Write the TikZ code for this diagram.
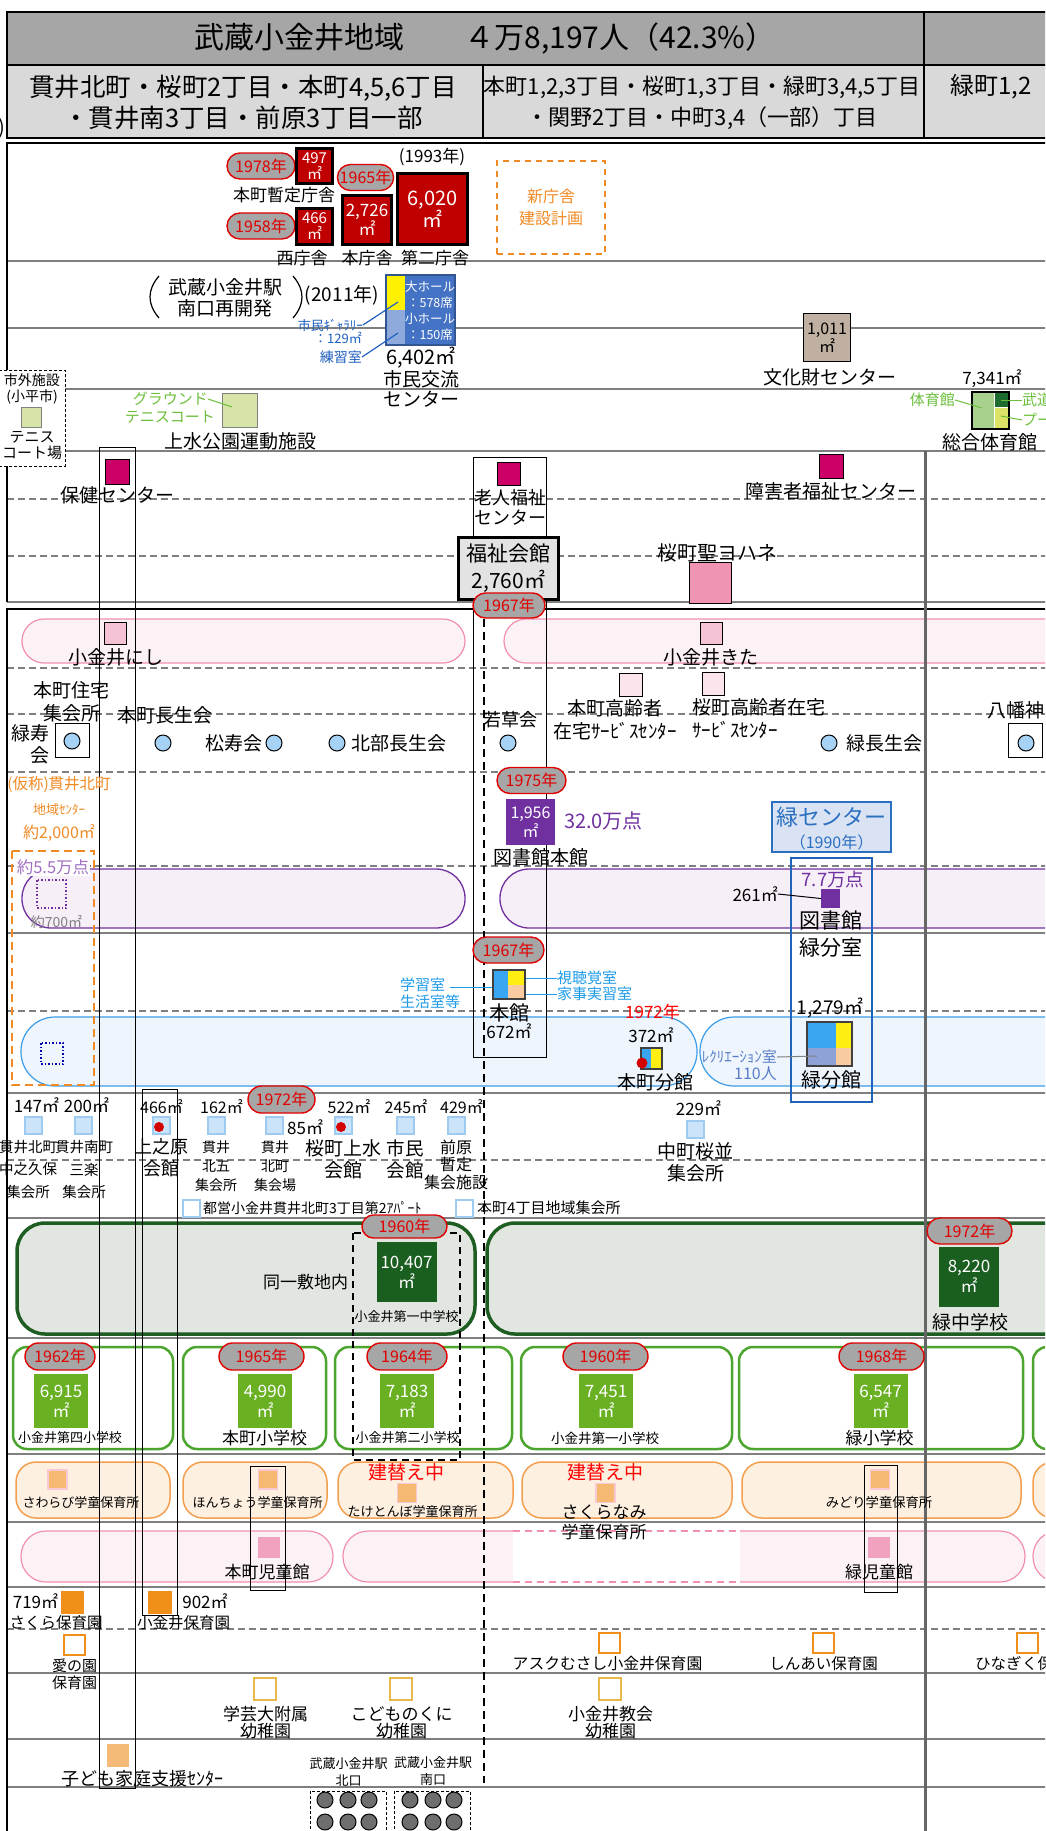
\documentclass[tikz,border=0pt]{standalone}
\usepackage{fontspec}
\setmainfont{Noto Sans CJK JP}
\usetikzlibrary{shapes.misc}
\newcommand\FS[2]{\fontsize{#1}{#2}\selectfont}
\definecolor{hdrA}{HTML}{A6A6A6}
\definecolor{hdrB}{HTML}{D9D9D9}
\definecolor{lineg}{HTML}{7F7F7F}
\definecolor{pillred}{HTML}{E00000}
\definecolor{pillgray}{HTML}{A6A6A6}
\definecolor{cityred}{HTML}{C00000}
\definecolor{neworange}{HTML}{F08A24}
\definecolor{hallyel}{HTML}{FFF200}
\definecolor{hallblue}{HTML}{4472C4}
\definecolor{hallpale}{HTML}{8EA9DB}
\definecolor{labblue}{HTML}{1F5FBF}
\definecolor{tanc}{HTML}{C0B0A2}
\definecolor{ltgreen}{HTML}{D7E4A8}
\definecolor{grlabel}{HTML}{6CBF3C}
\definecolor{gymgreen}{HTML}{A9D18E}
\definecolor{gymdark}{HTML}{1E6B30}
\definecolor{gymyel}{HTML}{DDE366}
\definecolor{welfmag}{HTML}{CC0066}
\definecolor{johpink}{HTML}{F094B4}
\definecolor{bandpink}{HTML}{F28FB1}
\definecolor{bandpinkfill}{HTML}{FCF2F6}
\definecolor{sqpink}{HTML}{F5C3D5}
\definecolor{sqpinkb}{HTML}{FCE4EC}
\definecolor{circblue}{HTML}{A6D2F5}
\definecolor{orgtext}{HTML}{F08A24}
\definecolor{purp}{HTML}{7030A0}
\definecolor{purplite}{HTML}{A070C4}
\definecolor{purpfill}{HTML}{F7EFF7}
\definecolor{mblue}{HTML}{1F64B8}
\definecolor{mcfill}{HTML}{DAE3F3}
\definecolor{mctext}{HTML}{2A6FC0}
\definecolor{kmblue}{HTML}{38A6F2}
\definecolor{kmyel}{HTML}{FFEE11}
\definecolor{kmpeach}{HTML}{F8CBA0}
\definecolor{kmlav}{HTML}{8EA2D8}
\definecolor{kmtext}{HTML}{1E9BE8}
\definecolor{bandblue}{HTML}{3B9DE8}
\definecolor{bandbluefill}{HTML}{EEF5FD}
\definecolor{rectxt}{HTML}{5A7DC8}
\definecolor{sqblue}{HTML}{CCE4FA}
\definecolor{sqblueb}{HTML}{9ECBF2}
\definecolor{redot}{HTML}{D40000}
\definecolor{jhdark}{HTML}{1E5E22}
\definecolor{jhfill}{HTML}{E1E7E0}
\definecolor{jhsq}{HTML}{1A5E20}
\definecolor{esgreen}{HTML}{4CA52E}
\definecolor{essq}{HTML}{69B023}
\definecolor{gakuband}{HTML}{F2A050}
\definecolor{gakufill}{HTML}{FDF0E1}
\definecolor{gakusq}{HTML}{F5B971}
\definecolor{gakusqb}{HTML}{F8C8D4}
\definecolor{jidosq}{HTML}{F0A2C0}
\definecolor{hoiku}{HTML}{F0901A}
\definecolor{youchi}{HTML}{E8B84A}
\definecolor{kosq}{HTML}{F5BA78}
\definecolor{stcirc}{HTML}{6E6E6E}
\definecolor{vdivc}{HTML}{666666}
\definecolor{fukushi}{HTML}{E3E3E3}
\begin{document}
\begin{tikzpicture}[x=1pt,y=-1pt,
  tx/.style={inner sep=0pt, align=center},
  yr/.style={rounded rectangle, draw=pillred, line width=1.4pt, fill=pillgray, text=pillred, inner sep=0pt, minimum height=26pt, font=\FS{16}{16}},
  bldg/.style={draw=black, line width=2.5pt, inner sep=0pt, align=center, text=white},
  sqr/.style={draw=black, line width=1pt, inner sep=0pt},
  circ/.style={circle, draw=black, line width=1pt, fill=circblue, minimum size=16pt, inner sep=0pt},
  sqb/.style={fill=sqblue, draw=sqblueb, line width=2pt, minimum width=17pt, minimum height=17pt, inner sep=0pt},
  essq/.style={fill=essq, text=white, inner sep=0pt, align=center, minimum width=54pt, minimum height=54pt, font=\FS{17}{20}},
  jhsq/.style={fill=jhsq, text=white, inner sep=0pt, align=center, minimum width=60pt, minimum height=60pt, font=\FS{17}{20}},
  gsq/.style={fill=gakusq, draw=gakusqb, line width=1.5pt, minimum width=19pt, minimum height=19pt, inner sep=0pt},
  hosq/.style={fill=white, draw=hoiku, line width=2pt, minimum width=21pt, minimum height=20pt, inner sep=0pt},
  yosq/.style={fill=white, draw=youchi, line width=2pt, minimum width=22pt, minimum height=22pt, inner sep=0pt},
  rowline/.style={draw=lineg, line width=1.5pt},
  rowdash/.style={draw=lineg, line width=1.2pt, dash pattern=on 7pt off 4pt},
  tallbox/.style={draw=black, line width=1pt},
  stc/.style={circle, draw=black, line width=1pt, fill=stcirc, minimum size=16pt, inner sep=0pt}
]
\useasboundingbox (0,0) rectangle (1045,1831);
\clip (0,0) rectangle (1045,1831);
\fill[white] (0,0) rectangle (1045,1831);

% ---------------- header
\fill[hdrA] (7,12) rectangle (1060,65);
\fill[hdrB] (7,65) rectangle (1060,138);
\draw[line width=1.2pt] (7,65) -- (1060,65);
\draw[line width=1.5pt] (483,65) -- (483,138);
\draw[line width=1.5pt] (924,12) -- (924,138);
\draw[line width=2.5pt] (1060,12) -- (7,12) -- (7,138) -- (1060,138);
\node[tx, font=\FS{30}{30}] (title) at (485,39) {武蔵小金井地域　　４万8,197人（42.3\%）};
\node[tx, font=\FS{25.5}{31}] (areaA) at (243,102.5) {貫井北町・桜町2丁目・本町4,5,6丁目\\・貫井南3丁目・前原3丁目一部};
\node[tx, font=\FS{22}{31}] (areaB) at (702,102.5) {本町1,2,3丁目・桜町1,3丁目・緑町3,4,5丁目\\・関野2丁目・中町3,4（一部）丁目};
\node[tx, font=\FS{24}{24}, anchor=west] (areaC) at (950,87) {緑町1,2};
\node[tx, font=\FS{20}{20}, anchor=east] (frag) at (5,128) {)};

% ---------------- section frames and row lines
\foreach \yy in {261,328,389,451} \draw[rowline] (7,\yy) -- (1060,\yy);
\foreach \yy in {499,556} \draw[rowdash] (7,\yy) -- (1060,\yy);
\foreach \yy in {933,1093,1218,1338,1454,1522,1587,1673,1739,1787} \draw[rowline] (7,\yy) -- (1060,\yy);
\foreach \yy in {668,714,772,866,1011,1160,1629} \draw[rowdash] (7,\yy) -- (1060,\yy);
\draw[lineg, line width=1.5pt] (7,602) -- (1060,602);
\draw[line width=2.5pt] (1060,143) -- (7,143) -- (7,602);
\draw[line width=2.5pt] (1060,609) -- (7,609) -- (7,1900);

% ---------------- bands
\draw[bandpink, fill=bandpinkfill, rounded corners=22pt, line width=1.2pt] (22,619) rectangle (465,663);
\draw[bandpink, fill=bandpinkfill, rounded corners=22pt, line width=1.2pt] (504,619) rectangle (1100,663);
\draw[purp, fill=purpfill, rounded corners=29pt, line width=1.3pt] (22,869) rectangle (465,928);
\draw[purp, fill=purpfill, rounded corners=29pt, line width=1.3pt] (500,869) rectangle (1100,928);
\draw[bandblue, fill=bandbluefill, rounded corners=34pt, line width=1.2pt] (21,1017) rectangle (697,1086);
\draw[bandblue, fill=bandbluefill, rounded corners=34pt, line width=1.2pt] (700,1017) rectangle (1100,1086);
\draw[jhdark, fill=jhfill, line width=3.5pt, rounded corners=28pt] (17,1223) rectangle (475,1334);
\draw[jhdark, fill=jhfill, line width=3.5pt, rounded corners=28pt] (487,1223) rectangle (1100,1334);
\foreach \xa/\xb in {13/173,183/326,335/512,521/732,739/1023,1033/1100}
  \draw[esgreen, line width=2.5pt, rounded corners=14pt] (\xa,1347) rectangle (\xb,1449);
\foreach \xa/\xb in {16/170,183/327,338/513,522/732,742/1021,1033/1100}
  \draw[gakuband, fill=gakufill, line width=1.5pt, rounded corners=20pt] (\xa,1462) rectangle (\xb,1518);
\draw[bandpink, fill=bandpinkfill, rounded corners=25pt, line width=1.2pt] (21,1531) rectangle (333,1582);
\draw[bandpink, fill=bandpinkfill, rounded corners=25pt, line width=1.2pt] (343,1531) rectangle (1025,1582);
\draw[bandpink, fill=bandpinkfill, rounded corners=25pt, line width=1.2pt] (1033,1531) rectangle (1100,1582);
\fill[white] (513,1528) rectangle (740,1585);
\draw[bandpink, line width=1.2pt, dash pattern=on 7pt off 5pt] (513,1531) -- (740,1531) (513,1582) -- (740,1582);

% ---------------- vertical divider and linking boxes
\draw[vdivc, line width=3pt] (925,451) -- (925,1831);
\draw[tallbox] (99,447) rectangle (135,1788);
\draw[tallbox] (142,1089) rectangle (177,1615);
\draw[tallbox] (473,457) rectangle (546,1057);
\draw[tallbox] (250,1466) rectangle (285,1590);
\draw[tallbox] (864,1465) rectangle (897,1592);
\draw[black, line width=2pt, dash pattern=on 8pt off 5pt] (484,606) -- (484,1783);
\draw[black, line width=1.3pt, dash pattern=on 7pt off 5pt] (353,1233) rectangle (460,1460);

% ---------------- row A : city hall
\node[yr, minimum width=68pt] (y1978) at (261,166) {1978年};
\node[bldg, fill=cityred, minimum width=36pt, minimum height=35pt, font=\FS{15}{16}] (b497) at (314.5,166) {497\\㎡};
\node[tx, font=\FS{17}{17}] (lhmz) at (284,195) {本町暫定庁舎};
\node[yr, minimum width=68pt] (y1958) at (261,226) {1958年};
\node[bldg, fill=cityred, minimum width=36pt, minimum height=36pt, font=\FS{15}{16}] (b466) at (314.5,226.5) {466\\㎡};
\node[tx, font=\FS{17}{17}] (lnishi) at (302,258) {西庁舎};
\node[yr, minimum width=55pt] (y1965a) at (365.5,177.5) {1965年};
\node[bldg, fill=cityred, minimum width=49pt, minimum height=49pt, font=\FS{17}{19}] (b2726) at (367,220) {2,726\\㎡};
\node[tx, font=\FS{17}{17}] (lhon) at (367,258) {本庁舎};
\node[tx, font=\FS{17}{17}] (l1993) at (432,157) {(1993年)};
\node[bldg, fill=cityred, minimum width=70pt, minimum height=71pt, font=\FS{20}{22}] (b6020) at (432.5,209) {6,020\\㎡};
\node[tx, font=\FS{17}{17}] (ldai2) at (435,258) {第二庁舎};
\node[draw=neworange, dash pattern=on 6pt off 5pt, line width=1.5pt, minimum width=108pt, minimum height=93pt, text=neworange, align=center, font=\FS{16}{22}, inner sep=0pt] (newplan) at (551,207.5) {新庁舎\\建設計画};

% ---------------- row B : civic center
\draw[line width=1.2pt] (159,276) .. controls (147,290) and (147,304) .. (159,318);
\draw[line width=1.2pt] (293,276) .. controls (305,290) and (305,304) .. (293,318);
\node[tx, font=\FS{19}{21}] (lmusashi) at (225,297.5) {武蔵小金井駅\\南口再開発};
\node[tx, font=\FS{19}{19}] (l2011) at (342,295) {(2011年)};
\fill[hallyel] (387,276) rectangle (405,310);
\fill[hallpale] (387,310) rectangle (405,344);
\fill[hallblue] (405,276) rectangle (455,344);
\node[draw=hallblue!75!black, line width=1.5pt, minimum width=69pt, minimum height=70pt, inner sep=0pt] (hall) at (420.5,310) {};
\node[tx, text=white, font=\FS{12.5}{16}] (halltxt) at (430,311) {大ホール\\：578席\\小ホール\\：150席};
\node[tx, text=labblue, font=\FS{13}{13}, anchor=east] (gal) at (363,325) {市民ｷﾞｬﾗﾘｰ};
\node[tx, text=labblue, font=\FS{13}{13}, anchor=east] (gal2) at (362,338) {：129㎡};
\node[tx, text=labblue, font=\FS{14}{14}, anchor=east] (prac) at (362,357) {練習室};
\coordinate (galpt) at (398,302);
\coordinate (pracpt) at (398,333);
\draw[labblue, line width=1.2pt] (gal.east) -- (galpt);
\draw[labblue, line width=1.2pt] (prac.east) -- (pracpt);
\node[tx, font=\FS{20}{20}] (l6402) at (421,358) {6,402㎡};
\node[tx, font=\FS{19}{20}] (lkoryu) at (421,389) {市民交流\\センター};

% ---------------- row C
\node[draw, line width=1.5pt, fill=tanc, minimum width=47pt, minimum height=48pt, inner sep=0pt, align=center, font=\FS{16}{18}] (bunka) at (827,337.5) {1,011\\㎡};
\node[tx, font=\FS{19}{19}] (lbunka) at (830,377) {文化財センター};

% ---------------- row D
\node[draw, dash pattern=on 3pt off 2pt, fill=white, line width=1pt, minimum width=66pt, minimum height=96pt, inner sep=0pt] (kodaira) at (32,418) {};
\node[tx, font=\FS{14}{16}] (lkod) at (32,389) {市外施設\\(小平市)};
\node[draw=gray, line width=1pt, fill=ltgreen, minimum width=20pt, minimum height=20pt, inner sep=0pt] (kteni) at (31.5,417.5) {};
\node[tx, font=\FS{15}{16}] (lkteni) at (32,446) {テニス\\コート場};
\node[draw=gray, line width=1pt, fill=ltgreen, minimum width=35pt, minimum height=34pt, inner sep=0pt] (jteni) at (240,410.5) {};
\node[tx, text=grlabel, font=\FS{15}{15}, anchor=east] (lground) at (208,399) {グラウンド};
\node[tx, text=grlabel, font=\FS{15}{15}, anchor=east] (ltennis) at (215,417) {テニスコート};
\coordinate (tennispt) at (232,407);
\draw[grlabel, line width=1pt] (lground.east) -- (tennispt);
\node[tx, font=\FS{19}{19}] (ljosui) at (240,441) {上水公園運動施設};
\node[tx, font=\FS{17}{17}] (l7341) at (992,379) {7,341㎡};
\fill[gymgreen] (972,392) rectangle (994,429);
\fill[gymdark] (994,392) rectangle (1009,407);
\fill[gymyel] (994,407) rectangle (1009,429);
\draw[white, line width=1pt] (994,392) -- (994,429) (994,407) -- (1009,407);
\node[draw, line width=2.5pt, minimum width=37pt, minimum height=37pt, inner sep=0pt] (gym) at (990.5,410.5) {};
\node[tx, text=grlabel, font=\FS{15}{15}, anchor=east] (lgymhall) at (955,400) {体育館};
\node[tx, text=grlabel, font=\FS{15}{15}, anchor=west] (lbudo) at (1022,400) {武道館};
\node[tx, text=grlabel, font=\FS{15}{15}, anchor=west] (lpool) at (1022,420) {プール};
\coordinate (gympt1) at (982,408);
\coordinate (gympt2) at (1001,400);
\coordinate (gympt3) at (1001,416);
\draw[grlabel, line width=1pt] (lgymhall.east) -- (gympt1);
\draw[grlabel, line width=1pt] (gympt2) -- (lbudo.west);
\draw[grlabel, line width=1pt] (gympt3) -- (lpool.west);
\node[tx, font=\FS{19}{19}] (lgym) at (990,442) {総合体育館};

% ---------------- row E : welfare
\node[sqr, fill=welfmag, minimum width=24pt, minimum height=25pt] (hoken) at (117,471.5) {};
\node[tx, font=\FS{19}{19}] (lhoken) at (117,495) {保健センター};
\node[sqr, fill=welfmag, minimum width=23pt, minimum height=23pt] (roujin) at (508.5,473.5) {};
\node[tx, font=\FS{18}{20}] (lroujin) at (510,507) {老人福祉\\センター};
\node[draw, line width=2.5pt, fill=fukushi, minimum width=100pt, minimum height=62pt, inner sep=0pt, align=center, font=\FS{21}{27}] (fukushi) at (508.5,568.5) {福祉会館\\2,760㎡};
\node[sqr, fill=welfmag, minimum width=24pt, minimum height=24pt] (shogai) at (831,466) {};
\node[tx, font=\FS{19}{19}] (lshogai) at (831,491) {障害者福祉センター};
\node[tx, font=\FS{20}{20}] (lyohane) at (717.5,553) {桜町聖ヨハネ};
\node[sqr, fill=johpink, minimum width=42pt, minimum height=41pt] (yohane) at (710.5,583) {};
\node[yr, minimum width=72pt, minimum height=25pt] (y1967a) at (509,605.5) {1967年};

% ---------------- section 2 : elderly / community
\node[sqr, fill=sqpink, minimum width=22pt, minimum height=22pt] (nishi) at (115.5,633) {};
\node[tx, font=\FS{19}{19}] (lnishi2) at (115.5,657) {小金井にし};
\node[sqr, fill=sqpink, minimum width=22pt, minimum height=22pt] (kita) at (711,633) {};
\node[tx, font=\FS{19}{19}] (lkita) at (711,657) {小金井きた};
\node[tx, font=\FS{19}{23}] (lhjutaku) at (71.5,701.5) {本町住宅\\集会所};
\node[tx, font=\FS{19}{22}, anchor=east, align=right] (lmjukai) at (50,744) {緑寿\\会};
\node[draw, line width=1.5pt, minimum width=34pt, minimum height=34pt, inner sep=0pt] (mjbox) at (72.5,740.5) {};
\node[circ] (mjc) at (72,741) {};
\node[tx, font=\FS{19}{19}] (lhcho) at (165,715) {本町長生会};
\node[circ] (hcho) at (163,743) {};
\node[tx, font=\FS{19}{19}] (lshoju) at (233.5,743) {松寿会};
\node[circ] (shoju) at (274,743) {};
\node[circ] (hokubu) at (337,743) {};
\node[tx, font=\FS{19}{19}, anchor=west] (lhokubu) at (351,743) {北部長生会};
\node[tx, font=\FS{18}{18}] (lwaka) at (510,720) {若草会};
\node[circ] (waka) at (508,743) {};
\node[sqr, fill=sqpinkb, minimum width=23pt, minimum height=23pt] (hkore) at (630.5,684.5) {};
\node[tx, font=\FS{19}{23}] (lhkore) at (615,719.5) {本町高齢者\\在宅ｻｰﾋﾞｽｾﾝﾀｰ};
\node[sqr, fill=sqpinkb, minimum width=22pt, minimum height=23pt] (skore) at (713,683.5) {};
\node[tx, font=\FS{19}{23}, anchor=west, align=left] (lskore) at (692,718.5) {桜町高齢者在宅\\ｻｰﾋﾞｽｾﾝﾀｰ};
\node[circ] (mcho) at (829,743) {};
\node[tx, font=\FS{19}{19}, anchor=west] (lmcho) at (846,743) {緑長生会};
\node[tx, font=\FS{19}{19}, anchor=west] (lhachi) at (987,710) {八幡神};
\node[draw, line width=1.5pt, minimum width=34pt, minimum height=34pt, inner sep=0pt] (hbox) at (1025.5,740.5) {};
\node[circ] (hachi) at (1026,743) {};

% ---------------- library row
\draw[orgtext, dash pattern=on 8pt off 5pt, line width=1.8pt] (12,851) rectangle (94,1085);
\node[tx, text=orgtext, font=\FS{15.5}{15.5}] (lkasho) at (59,785) {(仮称)貫井北町};
\node[tx, text=orgtext, font=\FS{13}{13}] (lchiiki) at (59,810) {地域ｾﾝﾀｰ};
\node[tx, text=orgtext, font=\FS{16}{16}] (l2000) at (59,833) {約2,000㎡};
\node[tx, fill=white, text=purplite, font=\FS{16.5}{16.5}, inner sep=1pt] (l55) at (53,867) {約5.5万点};
\draw[purp, line width=1.5pt, dash pattern=on 1.5pt off 2pt] (37,880) rectangle (66,908);
\node[tx, text=gray, font=\FS{14}{14}] (l700) at (56.5,922) {約700㎡};
\node[yr, minimum width=69pt] (y1975) at (531.5,780.5) {1975年};
\node[fill=purp, text=white, minimum width=49pt, minimum height=46pt, inner sep=0pt, align=center, font=\FS{16}{19}] (tosho) at (530.5,822) {1,956\\㎡};
\node[tx, text=purp, font=\FS{20}{20}] (l320) at (603.5,821) {32.0万点};
\node[tx, font=\FS{19}{19}] (ltosho) at (541,857) {図書館本館};
\node[draw=mctext, fill=mcfill, line width=1.5pt, minimum width=119pt, minimum height=50pt, inner sep=0pt] (mcenter) at (831.5,827) {};
\node[tx, text=mctext, font=\FS{22}{22}] (mctitle) at (831.5,817) {緑センター};
\node[tx, text=mctext, font=\FS{16}{16}] (mcyear) at (831.5,842) {（1990年）};
\draw[mblue, line width=2.5pt] (791,858) rectangle (872,1102);
\node[tx, text=purp, font=\FS{18.5}{18.5}] (l77) at (833,879) {7.7万点};
\node[fill=purp, minimum width=19pt, minimum height=19pt, inner sep=0pt] (mbun) at (830.5,898.5) {};
\node[tx, font=\FS{17}{17}, anchor=east] (l261) at (778,894) {261㎡};
\draw[line width=1pt] (l261.east) -- (mbun.west);
\node[tx, font=\FS{21}{27}] (lmbun) at (831,934.5) {図書館\\緑分室};

% ---------------- kominkan row
\node[yr, minimum width=71pt] (y1967b) at (508.5,950) {1967年};
\fill[kmblue] (493,970) rectangle (508,999);
\fill[kmyel] (508,970) rectangle (525,985);
\fill[kmpeach] (508,985) rectangle (525,999);
\node[draw=darkgray, line width=2.5pt, minimum width=32pt, minimum height=29pt, inner sep=0pt] (honkan) at (509,984.5) {};
\node[tx, text=kmtext, font=\FS{15}{17}, anchor=west, align=left] (lgaku) at (400,993.5) {学習室\\生活室等};
\coordinate (gakupt) at (450,987);
\draw[kmtext, line width=1pt] (gakupt) -- (honkan.west |- gakupt);
\node[tx, text=kmtext, font=\FS{15}{15}, anchor=west] (lshicho) at (557,978) {視聴覚室};
\node[tx, text=kmtext, font=\FS{15}{15}, anchor=west] (lkaji) at (557,994) {家事実習室};
\draw[kmtext, line width=1pt] (honkan.east |- lshicho) -- (lshicho.west);
\draw[kmtext, line width=1pt] (honkan.east |- lkaji) -- (lkaji.west);
\node[tx, font=\FS{20}{20}] (lhonkan) at (509,1013) {本館};
\node[tx, font=\FS{17}{17}] (l672) at (509,1031) {672㎡};
\draw[blue!70!black, line width=1.5pt, dash pattern=on 1.5pt off 2pt] (41,1043) rectangle (63,1064);
\node[tx, text=red, font=\FS{17}{17}] (l1972r) at (652.5,1012) {1972年};
\node[tx, font=\FS{17}{17}] (l372) at (651,1035) {372㎡};
\fill[kmblue] (641,1049) rectangle (651,1068);
\fill[kmyel] (651,1049) rectangle (661,1068);
\node[draw=darkgray, line width=2pt, minimum width=21pt, minimum height=21pt, inner sep=0pt] (hbunkan) at (651,1058.5) {};
\node[circle, fill=redot, minimum size=11pt, inner sep=0pt] (hbdot) at (642,1063) {};
\node[tx, font=\FS{19}{19}] (lhbunkan) at (655,1082) {本町分館};
\node[tx, font=\FS{19}{19}] (l1279) at (830,1008) {1,279㎡};
\fill[kmblue] (807,1022) rectangle (836,1048);
\fill[kmyel] (836,1022) rectangle (852,1048);
\fill[kmlav] (807,1048) rectangle (836,1066);
\fill[kmpeach] (836,1048) rectangle (852,1066);
\node[draw=darkgray, line width=2.5pt, minimum width=45pt, minimum height=44pt, inner sep=0pt] (mbunkan) at (829.5,1044) {};
\node[tx, text=rectxt, font=\FS{15}{15}, anchor=east] (lrec) at (777,1057) {ﾚｸﾘｴｰｼｮﾝ室};
\node[tx, text=rectxt, font=\FS{16}{16}, anchor=east] (l110) at (777,1074) {110人};
\coordinate (recpt) at (817,1056);
\draw[gray, line width=1pt] (lrec.east) -- (recpt);
\node[tx, font=\FS{20}{20}] (lmbunkan) at (831,1080) {緑分館};

% ---------------- meeting halls row
\node[tx, font=\FS{17}{17}] (l147) at (36.5,1105) {147㎡};
\node[sqb] (s147) at (33.5,1125.5) {};
\node[tx, font=\FS{17}{17}] (l200) at (86.5,1105) {200㎡};
\node[sqb] (s200) at (83.5,1125.5) {};
\node[tx, font=\FS{14.5}{22.5}] (lnkita) at (28,1169.5) {貫井北町\\中之久保\\集会所};
\node[tx, font=\FS{14.5}{22.5}] (lnminami) at (84,1169.5) {貫井南町\\三楽\\集会所};
\node[tx, font=\FS{16}{16}] (l466b) at (161.5,1107) {466㎡};
\node[sqb] (s466) at (161.5,1125.5) {};
\node[circle, fill=redot, minimum size=10pt, inner sep=0pt] (d466) at (159,1127) {};
\node[tx, font=\FS{18}{22}] (lkaminohara) at (161,1158) {上之原\\会館};
\node[tx, font=\FS{16}{16}] (l162) at (221.5,1107) {162㎡};
\node[sqb] (s162) at (216.5,1125.5) {};
\node[tx, font=\FS{14}{19}] (lkita5) at (216,1166) {貫井\\北五\\集会所};
\node[yr, minimum width=67pt, minimum height=27pt] (y1972a) at (281.5,1099.5) {1972年};
\node[sqb] (s85) at (274,1125.5) {};
\node[tx, font=\FS{17}{17}, anchor=west] (l85) at (287,1127) {85㎡};
\node[tx, font=\FS{14}{19}] (lkitam) at (275,1166) {貫井\\北町\\集会場};
\node[tx, font=\FS{16}{16}] (l522) at (349,1107) {522㎡};
\node[sqb] (s522) at (343.5,1125.5) {};
\node[circle, fill=redot, minimum size=10pt, inner sep=0pt] (d522) at (341,1127) {};
\node[tx, font=\FS{19}{22}] (ljosuik) at (343.5,1159) {桜町上水\\会館};
\node[tx, font=\FS{16}{16}] (l245) at (406,1107) {245㎡};
\node[sqb] (s245) at (405,1125.5) {};
\node[tx, font=\FS{18.5}{22}] (lshimin) at (405,1159) {市民\\会館};
\node[tx, font=\FS{16}{16}] (l429) at (461.5,1107) {429㎡};
\node[sqb] (s429) at (456,1125.5) {};
\node[tx, font=\FS{16}{17.5}] (lmaehara) at (456,1164.5) {前原\\暫定\\集会施設};
\node[tx, font=\FS{17}{17}] (l229) at (698.5,1108) {229㎡};
\node[sqb] (s229) at (695,1129) {};
\node[tx, font=\FS{19}{22}] (lnakacho) at (695.5,1162) {中町桜並\\集会所};
\node[sqb, fill=white] (stoei) at (191.5,1208) {};
\node[tx, font=\FS{14}{14}, anchor=west] (ltoei) at (203,1208) {都営小金井貫井北町3丁目第2ｱﾊﾟｰﾄ};
\node[sqb, fill=white] (shon4) at (464.5,1208) {};
\node[tx, font=\FS{15}{15}, anchor=west] (lhon4) at (477,1208) {本町4丁目地域集会所};

% ---------------- junior high row
\node[tx, font=\FS{17}{17}] (ldoitsu) at (305.5,1282) {同一敷地内};
\node[yr, minimum width=85pt, minimum height=23pt] (y1960a) at (404.5,1226.5) {1960年};
\node[jhsq] (jh1) at (406.5,1272) {10,407\\㎡};
\node[tx, font=\FS{13}{13}] (ljh1) at (406.5,1317) {小金井第一中学校};
\node[yr, minimum width=85pt] (y1972b) at (969.5,1231) {1972年};
\node[jhsq] (jh2) at (969,1276.5) {8,220\\㎡};
\node[tx, font=\FS{19}{19}] (ljh2) at (970,1322) {緑中学校};

% ---------------- elementary row
\node[yr, minimum width=70pt, minimum height=27pt] (y1962) at (60,1356.5) {1962年};
\node[yr, minimum width=85pt, minimum height=27pt] (y1965b) at (261.5,1356.5) {1965年};
\node[yr, minimum width=80pt, minimum height=27pt] (y1964) at (407,1356.5) {1964年};
\node[yr, minimum width=85pt, minimum height=27pt] (y1960b) at (605.5,1356.5) {1960年};
\node[yr, minimum width=85pt, minimum height=27pt] (y1968) at (881.5,1356.5) {1968年};
\node[essq] (es1) at (61,1401) {6,915\\㎡};
\node[essq] (es2) at (265,1401) {4,990\\㎡};
\node[essq] (es3) at (407,1401) {7,183\\㎡};
\node[essq] (es4) at (606,1401) {7,451\\㎡};
\node[essq] (es5) at (880.5,1401) {6,547\\㎡};
\node[tx, font=\FS{13}{13}] (les1) at (70,1438) {小金井第四小学校};
\node[tx, font=\FS{17}{17}] (les2) at (264.5,1438) {本町小学校};
\node[tx, font=\FS{13}{13}] (les3) at (407.5,1438) {小金井第二小学校};
\node[tx, font=\FS{13.5}{13.5}] (les4) at (605,1438) {小金井第一小学校};
\node[tx, font=\FS{17}{17}] (les5) at (879.5,1438) {緑小学校};

% ---------------- after-school row
\node[gsq] (g1) at (57.5,1479.5) {};
\node[tx, font=\FS{13}{13}] (lg1) at (81,1503) {さわらび学童保育所};
\node[gsq] (g2) at (268,1479.5) {};
\node[tx, font=\FS{13}{13}] (lg2) at (257.5,1503) {ほんちょう学童保育所};
\node[tx, text=red, font=\FS{19}{19}] (ltate1) at (406,1472) {建替え中};
\node[gsq] (g3) at (407,1493) {};
\node[tx, font=\FS{13}{13}] (lg3) at (412.5,1512) {たけとんぼ学童保育所};
\node[tx, text=red, font=\FS{19}{19}] (ltate2) at (605,1472) {建替え中};
\node[gsq] (g4) at (605.5,1493) {};
\node[tx, font=\FS{17}{20}] (lg4) at (604,1522) {さくらなみ\\学童保育所};
\node[gsq] (g5) at (880,1479.5) {};
\node[tx, font=\FS{13.3}{13.3}] (lg5) at (879,1502) {みどり学童保育所};

% ---------------- children's hall row
\node[fill=jidosq, minimum width=22pt, minimum height=21pt, inner sep=0pt] (jd1) at (269,1547.5) {};
\node[tx, font=\FS{17}{17}] (ljd1) at (267,1572) {本町児童館};
\node[fill=jidosq, minimum width=22pt, minimum height=21pt, inner sep=0pt] (jd2) at (879,1547.5) {};
\node[tx, font=\FS{17}{17}] (ljd2) at (879,1572) {緑児童館};

% ---------------- nursery row
\node[tx, font=\FS{17}{17}] (l719) at (35.5,1601) {719㎡};
\node[fill=hoiku, minimum width=23pt, minimum height=23pt, inner sep=0pt] (h1) at (72.5,1602.5) {};
\node[tx, font=\FS{15.5}{15.5}] (lh1) at (56,1623) {さくら保育園};
\node[fill=hoiku, minimum width=24pt, minimum height=23pt, inner sep=0pt] (h2) at (160,1602.5) {};
\node[tx, font=\FS{17}{17}] (l902) at (205,1601) {902㎡};
\node[tx, font=\FS{15.5}{15.5}] (lh2) at (183.5,1623) {小金井保育園};
\node[hosq] (h3) at (74.5,1645) {};
\node[tx, font=\FS{15}{17}] (lh3) at (74.5,1674.5) {愛の園\\保育園};
\node[hosq] (h4) at (609,1643) {};
\node[tx, font=\FS{15.8}{15.8}] (lh4) at (607.5,1664) {アスクむさし小金井保育園};
\node[hosq] (h5) at (823.5,1643) {};
\node[tx, font=\FS{15.5}{15.5}] (lh5) at (823.5,1664) {しんあい保育園};
\node[hosq] (h6) at (1027.5,1643) {};
\node[tx, font=\FS{15.5}{15.5}, anchor=west] (lh6) at (975,1664) {ひなぎく保育園};

% ---------------- kindergarten row
\node[yosq] (k1) at (265,1689) {};
\node[tx, font=\FS{17}{17}] (lk1) at (265.5,1722.5) {学芸大附属\\幼稚園};
\node[yosq] (k2) at (401,1689) {};
\node[tx, font=\FS{17}{17}] (lk2) at (401.5,1722.5) {こどものくに\\幼稚園};
\node[yosq] (k3) at (609.5,1689) {};
\node[tx, font=\FS{17}{17}] (lk3) at (610.5,1722.5) {小金井教会\\幼稚園};

% ---------------- family support / stations
\node[fill=kosq, minimum width=22pt, minimum height=23pt, inner sep=0pt] (kodomo) at (118,1755.5) {};
\node[tx, font=\FS{18}{18}] (lkodomo) at (142.5,1779) {子ども家庭支援ｾﾝﾀｰ};
\node[tx, font=\FS{13}{17}] (lstn) at (348.5,1771.5) {武蔵小金井駅\\北口};
\node[tx, font=\FS{13}{17}] (lsts) at (433,1771.5) {武蔵小金井駅\\南口};
\draw[line width=1pt, dash pattern=on 3pt off 2pt] (310,1791) rectangle (386,1840);
\draw[line width=1pt, dash pattern=on 3pt off 2pt] (394,1791) rectangle (470,1840);
\foreach \cx/\nm in {325/a,348/b,369/c,410/d,433/e,454/f} {
  \node[stc] (st\nm1) at (\cx,1800) {};
  \node[stc] (st\nm2) at (\cx,1822) {};
}
\end{tikzpicture}
\end{document}
